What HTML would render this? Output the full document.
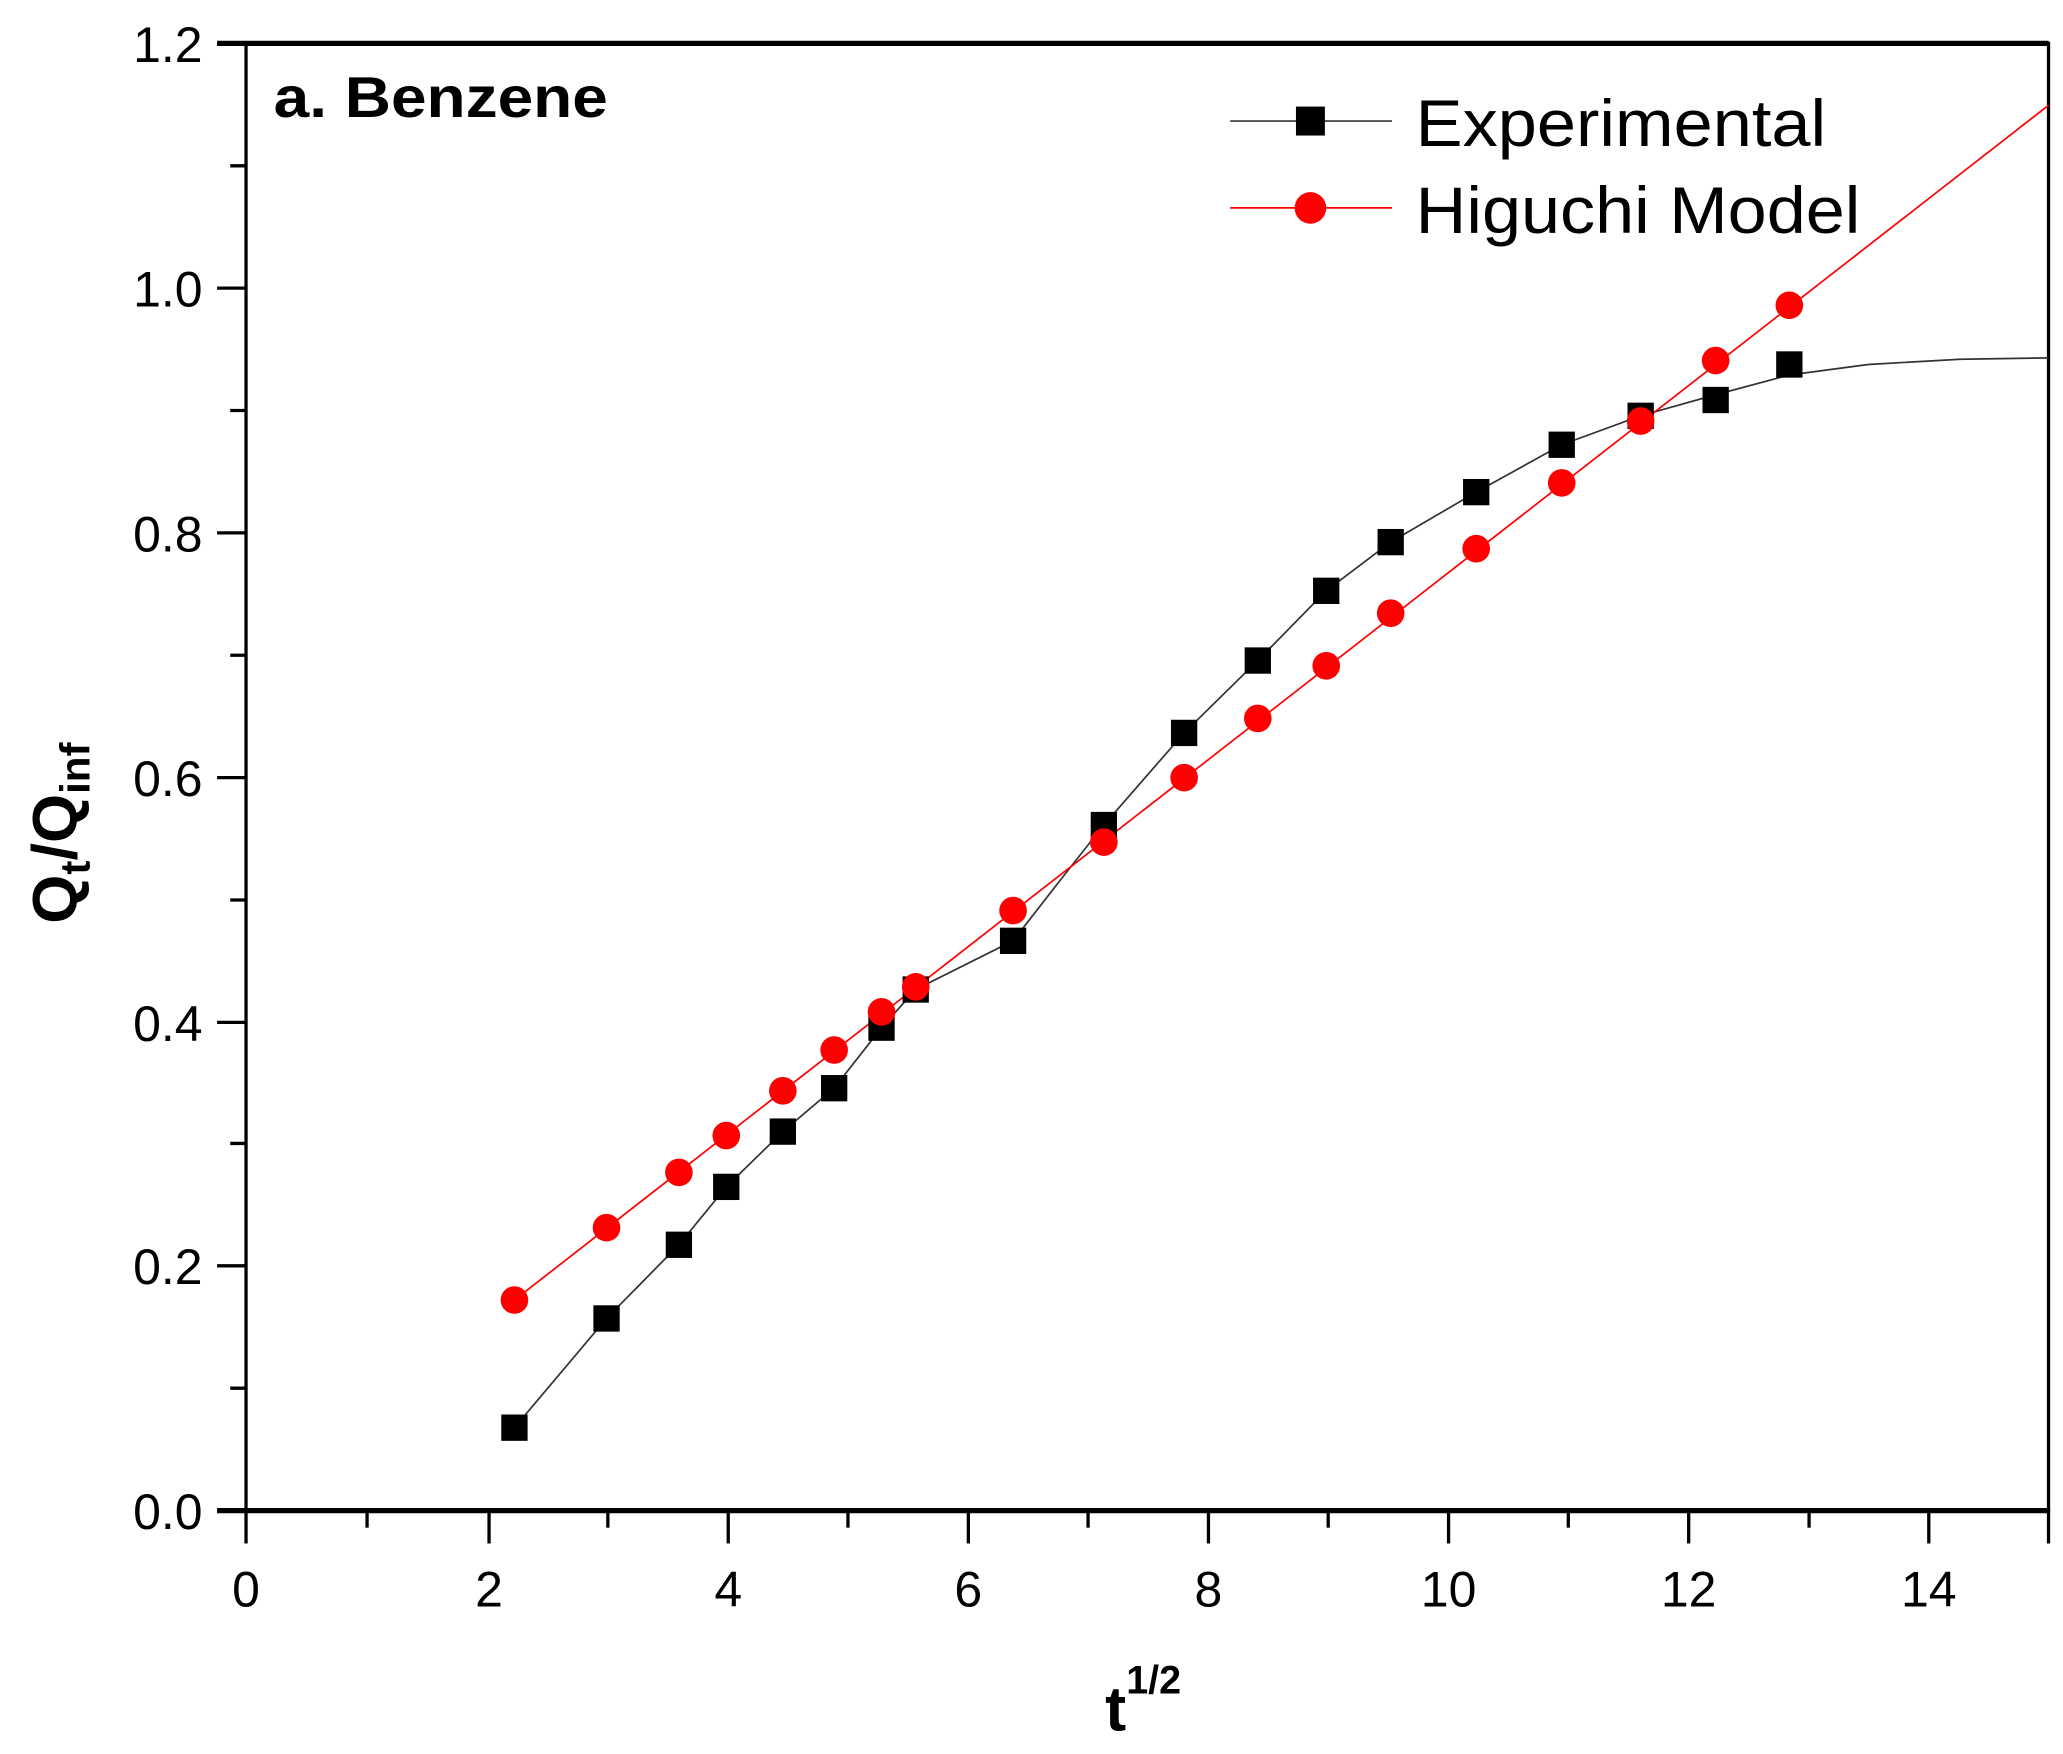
<!DOCTYPE html>
<html><head><style>html,body{margin:0;padding:0;background:#fff}svg{display:block}</style></head>
<body>
<svg width="2063" height="1754" viewBox="0 0 1568 1333" preserveAspectRatio="none" xmlns="http://www.w3.org/2000/svg" font-family="Liberation Sans, Arial, sans-serif">
<rect width="1568" height="1333" fill="#fff"/>
<rect x="187" y="33" width="1370" height="1115" fill="none" stroke="#000" stroke-width="2.5"/>
<line x1="165" y1="33" x2="1557" y2="33" stroke="#000" stroke-width="4"/>
<line x1="165" y1="1148" x2="1557" y2="1148" stroke="#000" stroke-width="4"/>
<g stroke="#000" stroke-width="2.5">
<line x1="165" y1="219" x2="187" y2="219"/><line x1="165" y1="405" x2="187" y2="405"/>
<line x1="165" y1="591" x2="187" y2="591"/><line x1="165" y1="777" x2="187" y2="777"/>
<line x1="165" y1="962" x2="187" y2="962"/>
<line x1="175" y1="126" x2="187" y2="126"/><line x1="175" y1="312" x2="187" y2="312"/>
<line x1="175" y1="498" x2="187" y2="498"/><line x1="175" y1="684" x2="187" y2="684"/>
<line x1="175" y1="869" x2="187" y2="869"/><line x1="175" y1="1055" x2="187" y2="1055"/>
<line x1="187" y1="1148" x2="187" y2="1173"/><line x1="371.7" y1="1148" x2="371.7" y2="1173"/>
<line x1="553.5" y1="1148" x2="553.5" y2="1173"/><line x1="736" y1="1148" x2="736" y2="1173"/>
<line x1="918.5" y1="1148" x2="918.5" y2="1173"/><line x1="1101" y1="1148" x2="1101" y2="1173"/>
<line x1="1283.5" y1="1148" x2="1283.5" y2="1173"/><line x1="1466" y1="1148" x2="1466" y2="1173"/>
<line x1="279" y1="1148" x2="279" y2="1161"/><line x1="462" y1="1148" x2="462" y2="1161"/>
<line x1="644.5" y1="1148" x2="644.5" y2="1161"/><line x1="827" y1="1148" x2="827" y2="1161"/>
<line x1="1009.5" y1="1148" x2="1009.5" y2="1161"/><line x1="1192" y1="1148" x2="1192" y2="1161"/>
<line x1="1375" y1="1148" x2="1375" y2="1161"/><line x1="1557" y1="1148" x2="1557" y2="1173"/>
</g>
<g font-size="38" text-anchor="end" fill="#000">
<text x="154" y="47">1.2</text><text x="154" y="233">1.0</text><text x="154" y="419">0.8</text>
<text x="154" y="605">0.6</text><text x="154" y="791">0.4</text><text x="154" y="976">0.2</text>
<text x="154" y="1162">0.0</text>
</g>
<g font-size="38" text-anchor="middle" fill="#000">
<text x="187" y="1221">0</text><text x="371.7" y="1221">2</text><text x="553.5" y="1221">4</text>
<text x="736" y="1221">6</text><text x="918.5" y="1221">8</text><text x="1101" y="1221">10</text>
<text x="1283.5" y="1221">12</text><text x="1466" y="1221">14</text>
</g>
<text x="208" y="89" font-size="44" font-weight="bold" textLength="254" lengthAdjust="spacingAndGlyphs">a. Benzene</text>
<text x="840" y="1315" font-size="48" font-weight="bold">t<tspan font-size="30" dy="-28">1/2</tspan></text>
<text transform="translate(58,702) rotate(-90)" font-size="48" font-weight="bold">Q<tspan font-size="32" dy="10">t</tspan><tspan dy="-10">/Q</tspan><tspan font-size="32" dy="10">inf</tspan></text>
<polyline fill="none" stroke="#333" stroke-width="1.3" points="391,1085 461,1002 516,946 552,902 595,860 634,827 670,781 696,752 770,715 805,670 839,627 900,557 956,502 1008,449 1057,412 1122,374 1187,338 1247,316 1304,300 1360,285 1420,277 1490,273 1557,272"/>
<line x1="391" y1="988" x2="1557" y2="80" stroke="#f00" stroke-width="1.3"/>
<g fill="#000">
<rect x="381" y="1075" width="20" height="20"/><rect x="451" y="992" width="20" height="20"/>
<rect x="506" y="936" width="20" height="20"/><rect x="542" y="892" width="20" height="20"/>
<rect x="585" y="850" width="20" height="20"/><rect x="624" y="817" width="20" height="20"/>
<rect x="660" y="771" width="20" height="20"/><rect x="686" y="742" width="20" height="20"/>
<rect x="760" y="705" width="20" height="20"/><rect x="829" y="617" width="20" height="20"/>
<rect x="890" y="547" width="20" height="20"/><rect x="946" y="492" width="20" height="20"/>
<rect x="998" y="439" width="20" height="20"/><rect x="1047" y="402" width="20" height="20"/>
<rect x="1112" y="364" width="20" height="20"/><rect x="1177" y="328" width="20" height="20"/>
<rect x="1237" y="306" width="20" height="20"/><rect x="1294" y="294" width="20" height="20"/>
<rect x="1350" y="267" width="20" height="20"/>
</g>
<g fill="#f00">
<circle cx="391" cy="988" r="10.5"/><circle cx="461" cy="933" r="10.5"/><circle cx="516" cy="891" r="10.5"/>
<circle cx="552" cy="863" r="10.5"/><circle cx="595" cy="829" r="10.5"/><circle cx="634" cy="798" r="10.5"/>
<circle cx="670" cy="769" r="10.5"/><circle cx="696" cy="750" r="10.5"/><circle cx="770" cy="692" r="10.5"/>
<circle cx="839" cy="640" r="10.5"/><circle cx="900" cy="591" r="10.5"/><circle cx="956" cy="546" r="10.5"/>
<circle cx="1008" cy="506" r="10.5"/><circle cx="1057" cy="466" r="10.5"/><circle cx="1122" cy="417" r="10.5"/>
<circle cx="1187" cy="367" r="10.5"/><circle cx="1247" cy="320" r="10.5"/><circle cx="1304" cy="274" r="10.5"/>
<circle cx="1360" cy="232" r="10.5"/>
</g>
<line x1="935" y1="92" x2="1058" y2="92" stroke="#333" stroke-width="1.3"/>
<rect x="985" y="81" width="22" height="22" fill="#000"/>
<text x="1076" y="111" font-size="50" textLength="312" lengthAdjust="spacingAndGlyphs">Experimental</text>
<line x1="935" y1="158" x2="1058" y2="158" stroke="#f00" stroke-width="1.3"/>
<circle cx="996" cy="158" r="12" fill="#f00"/>
<text x="1076" y="177" font-size="50" textLength="338" lengthAdjust="spacingAndGlyphs">Higuchi Model</text>
</svg>
</body></html>
